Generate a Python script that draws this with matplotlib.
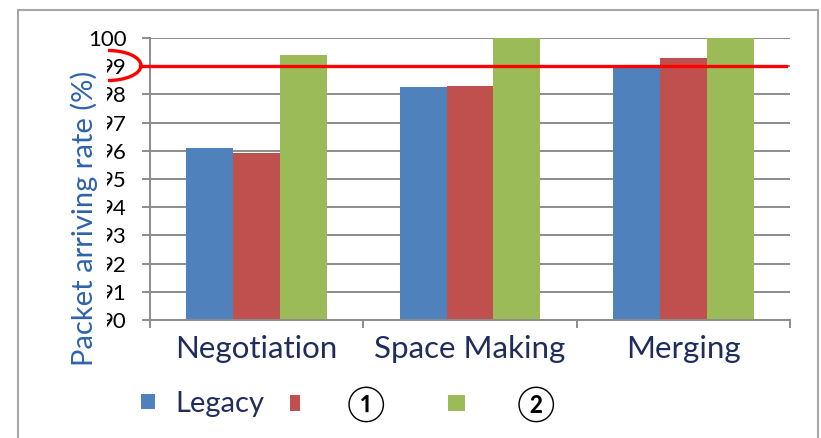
import matplotlib
matplotlib.use("Agg")
import matplotlib.pyplot as plt
from matplotlib.patches import Arc, Rectangle, Patch
from matplotlib.transforms import blended_transform_factory
import numpy as np

categories = ["Negotiation", "Space Making", "Merging"]
legacy = [96.1, 98.25, 98.95]
method1 = [95.92, 98.3, 99.3]
method2 = [99.4, 100.0, 100.0]
series_labels = ["Legacy", "①", "②"]
colors = ["#4F81BD", "#C0504D", "#9BBB59"]
yticks = [90, 91, 92, 93, 94, 95, 96, 97, 98, 99, 100]
threshold = 99

W, H = 821, 438
fig = plt.figure(figsize=(W / 100, H / 100), dpi=100)
fam = ["Lato", "Noto Sans CJK JP", "DejaVu Sans"]
plt.rcParams["font.family"] = fam

def fx(px):
    return px / W

def fy(py):
    return 1 - py / H

ax = fig.add_axes([fx(150), fy(320), fx(790) - fx(150), fy(38) - fy(320)])

x = np.arange(len(categories))
bw = 0.22
for i, (vals, c) in enumerate(zip([legacy, method1, method2], colors)):
    ax.bar(x + (i - 1) * bw, np.array(vals) - 90, bottom=90, width=bw, color=c,
           edgecolor="none", zorder=2)

ax.set_ylim(90, 100)
ax.set_xlim(-0.5, 2.5)
ax.set_yticks(yticks)
ax.set_yticklabels([str(v) for v in yticks], fontsize=16, color="black")
ax.yaxis.grid(True, color="#8c8c8c", lw=1.4, zorder=0)
ax.set_axisbelow(True)

ax.set_xticks([-0.5, 0.5, 1.5, 2.5])
ax.set_xticklabels([])
ax.set_xticks(x, minor=True)
ax.set_xticklabels(categories, minor=True, fontsize=22.5, color="#1f2d5c")
ax.tick_params(axis="x", which="minor", length=0, pad=11)
ax.tick_params(axis="x", which="major", length=6, width=1.4, color="#8c8c8c")
ax.tick_params(axis="y", length=6, width=1.4, color="#8c8c8c", pad=11)

for s in ["top", "right"]:
    ax.spines[s].set_visible(False)
for s in ["left", "bottom"]:
    ax.spines[s].set_color("#8c8c8c")
    ax.spines[s].set_linewidth(1.4)

# threshold line
tr = blended_transform_factory(ax.transAxes, ax.transData)
ax.plot([-10 / 640, 636 / 640], [threshold, threshold], color="red", lw=2.4,
        transform=tr, clip_on=False, zorder=5)

# white box partly hiding the tick labels (as in the reference)
fig.patches.append(Rectangle((fx(50), fy(372)), fx(107) - fx(50), fy(52) - fy(372),
                             transform=fig.transFigure, facecolor="white",
                             edgecolor="none", zorder=2))
fig.text(fx(84), fy(218), "Packet arriving rate (%)", rotation=90, ha="center",
         va="center", fontsize=21, color="#2e63ad", zorder=3)

# arc around 99
fig.patches.append(Arc((fx(108), fy(65.5)), fx(66), 30 / H, theta1=-90, theta2=90,
                       transform=fig.transFigure, color="red", lw=2.4, zorder=4))

# outer border
fig.patches.append(Rectangle((fx(18), fy(445)), fx(818) - fx(18), fy(10) - fy(445),
                             transform=fig.transFigure, facecolor="none",
                             edgecolor="#a6a6a6", lw=1.5, zorder=1, clip_on=False))

# legend entries: (handle left px, handle width px, text left px, fontsize pt)
leg_pos = [(141, 14, 175, 21), (290, 10, 347, 25), (448, 17, 517, 25)]
for (px, wpx, tx, fs), lab, c in zip(leg_pos, series_labels, colors):
    fpx = fs * 100 / 72
    fig.legend(handles=[Patch(facecolor=c)], labels=[lab], loc="center left",
               bbox_to_anchor=(fx(px), fy(404)), frameon=False, borderpad=0,
               borderaxespad=0, handlelength=wpx / fpx, handleheight=12 / fpx,
               handletextpad=(tx - px - wpx) / fpx, fontsize=fs,
               labelcolor="#1f2d5c" if lab == "Legacy" else "black")

fig.savefig("out.png", dpi=100)
